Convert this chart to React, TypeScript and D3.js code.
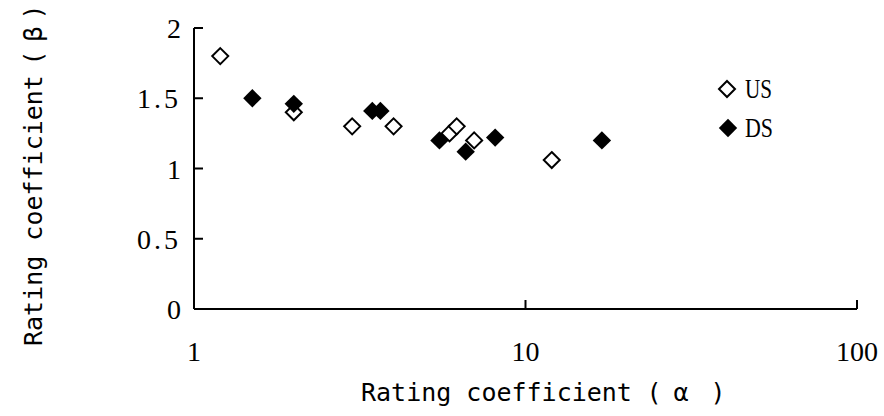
import React from "react";
import * as d3 from "d3";

const usX = [1.2, 2, 3, 4, 5.9, 6.2, 7, 12];
const usY = [1.8, 1.4, 1.3, 1.3, 1.25, 1.3, 1.2, 1.06];
const dsX = [1.5, 2, 3.45, 3.65, 5.5, 6.6, 8.1, 17];
const dsY = [1.5, 1.46, 1.41, 1.41, 1.2, 1.12, 1.22, 1.2];
const xTicks = [1, 10, 100];
const yTicks = [0, 0.5, 1, 1.5, 2];
const seriesNames = ["US", "DS"];

const W = 884;
const H = 416;

export default function App() {
  const x = d3.scaleLog().domain([1, 100]).range([194, 857]);
  const y = d3.scaleLinear().domain([0, 2]).range([309, 28]);

  const hollow = d3.symbol().type(d3.symbolDiamond2).size(Math.pow(8 / 0.62625, 2))()!;
  const solid = d3.symbol().type(d3.symbolDiamond2).size(Math.pow(9.2 / 0.62625, 2))()!;

  const us = usX.map((v, i) => ({ x: v, y: usY[i] }));
  const ds = dsX.map((v, i) => ({ x: v, y: dsY[i] }));
  const usBack = us.filter((d) => d.x < 2.5);
  const usFront = us.filter((d) => d.x >= 2.5);

  const numFont = "'Liberation Serif', 'Times New Roman', serif";
  const titleFont = "'DejaVu Sans Mono', monospace";

  const hollowMark = (d: { x: number; y: number }, i: number, k: string) => (
    <path key={k + i} d={hollow} transform={`translate(${x(d.x)},${y(d.y)})`} fill="#fff" stroke="#000" strokeWidth={2} />
  );
  const solidMark = (d: { x: number; y: number }, i: number) => (
    <path key={"ds" + i} d={solid} transform={`translate(${x(d.x)},${y(d.y)})`} fill="#000" />
  );

  return (
    <svg width={W} height={H} style={{ position: "absolute", left: 0, top: 0, background: "#fff" }}>
      {/* axes */}
      <line x1={x(1)} x2={x(1)} y1={y(2)} y2={y(0)} stroke="#000" strokeWidth={2} />
      <line x1={x(1)} x2={x(100)} y1={y(0)} y2={y(0)} stroke="#000" strokeWidth={2} />
      {yTicks.map((t) => (
        <g key={"yt" + t}>
          <line x1={x(1)} x2={x(1) + 9} y1={y(t)} y2={y(t)} stroke="#000" strokeWidth={2} />
          <text x={181} y={y(t)} dy="0.36em" textAnchor="end" fontFamily={numFont} fontSize={28} letterSpacing={t % 1 ? 3 : 0}>
            {String(t)}
          </text>
        </g>
      ))}
      {xTicks.map((t) => (
        <g key={"xt" + t}>
          <line x1={x(t)} x2={x(t)} y1={y(0)} y2={y(0) - 9} stroke="#000" strokeWidth={2} />
          <text x={x(t)} y={361} textAnchor="middle" fontFamily={numFont} fontSize={28}>
            {String(t)}
          </text>
        </g>
      ))}

      {/* points */}
      {usBack.map((d, i) => hollowMark(d, i, "usb"))}
      {ds.map((d, i) => solidMark(d, i))}
      {usFront.map((d, i) => hollowMark(d, i, "usf"))}

      {/* legend */}
      <path d={hollow} transform="translate(727,89)" fill="#fff" stroke="#000" strokeWidth={2} />
      <path d={solid} transform="translate(728,128)" fill="#000" />
      <text x={745} y={98} fontFamily={numFont} fontSize={28} textLength={27} lengthAdjust="spacingAndGlyphs">
        {seriesNames[0]}
      </text>
      <text x={745} y={137} fontFamily={numFont} fontSize={28} textLength={28} lengthAdjust="spacingAndGlyphs">
        {seriesNames[1]}
      </text>

      {/* x title */}
      <text transform="translate(361,401)" fontFamily={titleFont} fontSize={25} fill="#000">
        <tspan x={0}>Rating coefficient</tspan>
        <tspan x={293} textAnchor="middle">(</tspan>
        <tspan x={320} textAnchor="middle">α</tspan>
        <tspan x={357} textAnchor="middle">)</tspan>
      </text>

      {/* y title */}
      <text transform="translate(42,346) rotate(-90)" fontFamily={titleFont} fontSize={25} fill="#000">
        <tspan x={0}>Rating coefficient</tspan>
        <tspan x={288} textAnchor="middle">(</tspan>
        <tspan x={312} textAnchor="middle">β</tspan>
        <tspan x={334} textAnchor="middle">)</tspan>
      </text>
    </svg>
  );
}
